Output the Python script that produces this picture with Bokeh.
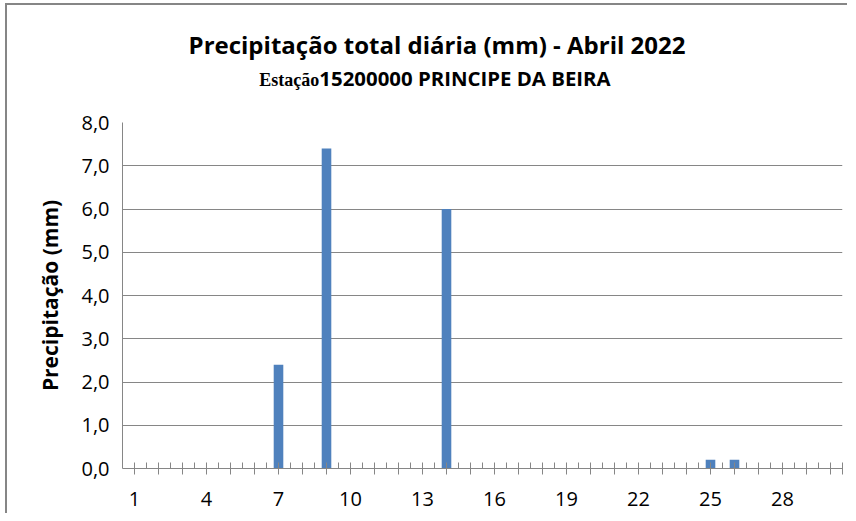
from bokeh.plotting import figure
from bokeh.models import FixedTicker, CustomJSTickFormatter, Range1d, Div
from bokeh.layouts import column
from bokeh.embed import file_html
from bokeh.resources import INLINE

# ---- data ----
days = list(range(1, 31))
precip = [0, 0, 0, 0, 0, 0, 2.4, 0, 7.4, 0,
          0, 0, 0, 6.0, 0, 0, 0, 0, 0, 0,
          0, 0, 0, 0, 0.2, 0.2, 0, 0, 0, 0]
x_label_days = [1, 4, 7, 10, 13, 16, 19, 22, 25, 28]
y_ticks = [0, 1, 2, 3, 4, 5, 6, 7, 8]

title_text = "Precipitação total diária (mm) - Abril 2022"
sub_serif = "Estação"
sub_sans = "15200000 PRINCIPE DA BEIRA"
y_label = "Precipitação (mm)"

BAR = "#4F81BD"
GRAY = "#868686"
SANS = "Open Sans"

bar_days = [d for d, v in zip(days, precip) if v > 0]
bar_vals = [v for v in precip if v > 0]

HEADER_H = 100
W = 840

header = Div(width=W, height=HEADER_H, margin=0, text=(
    '<div style="position:relative;width:%dpx;height:%dpx;margin:0;padding:0;overflow:hidden;">'
    '<div style="position:absolute;left:430px;top:28px;transform:translateX(-50%%);'
    'font-family:\'Open Sans\';font-weight:bold;font-size:24px;line-height:1;color:#000;'
    'white-space:nowrap;">%s</div>'
    '<div style="position:absolute;left:428px;top:63px;transform:translateX(-50%%);'
    'font-family:\'Open Sans\';font-weight:bold;font-size:20.4px;line-height:1;color:#000;'
    'white-space:nowrap;"><span style="font-family:\'Liberation Serif\';font-size:18px;">%s</span>%s</div>'
    '</div>') % (W, HEADER_H, title_text, sub_serif, sub_sans))

p = figure(frame_width=720, frame_height=346,
           x_range=Range1d(0.5, 30.5), y_range=Range1d(0, 8),
           output_backend="svg", toolbar_location=None,
           min_border_left=115, min_border_top=122 - 5 - HEADER_H,
           min_border_right=W - 115 - 720, min_border_bottom=45)
p.outline_line_color = None
p.background_fill_color = "white"
p.border_fill_color = "white"

p.vbar(x=bar_days, top=bar_vals, width=0.4, fill_color=BAR, line_color=None)

# grid
p.xgrid.visible = False
p.ygrid.ticker = FixedTicker(ticks=y_ticks)
p.ygrid.grid_line_color = GRAY
p.ygrid.grid_line_width = 1

# y axis
ya = p.yaxis[0]
ya.ticker = FixedTicker(ticks=y_ticks)
ya.formatter = CustomJSTickFormatter(code="return tick.toFixed(1).replace('.', ',');")
ya.major_tick_in = 0
ya.major_tick_out = 0
ya.minor_tick_in = 0
ya.minor_tick_out = 0
ya.axis_line_color = GRAY
ya.major_label_text_font = SANS
ya.major_label_text_font_size = "20px"
ya.major_label_text_color = "#000000"
ya.major_label_standoff = 13
ya.axis_label = y_label
ya.axis_label_text_font = SANS
ya.axis_label_text_font_style = "bold"
ya.axis_label_text_font_size = "21px"
ya.axis_label_text_color = "#000000"
ya.axis_label_standoff = 14

# x axis
xa = p.xaxis[0]
xa.ticker = FixedTicker(ticks=days + [30.5], minor_ticks=[d + 0.5 for d in days[:-1]])
xa.major_label_overrides = {d: (str(d) if d in x_label_days else "") for d in days}
xa.major_label_overrides[30.5] = ""
xa.major_tick_in = 6
xa.major_tick_out = 6
xa.minor_tick_in = 6
xa.minor_tick_out = 0
xa.axis_line_color = GRAY
xa.major_tick_line_color = GRAY
xa.minor_tick_line_color = GRAY
xa.major_label_text_font = SANS
xa.major_label_text_font_size = "20px"
xa.major_label_text_color = "#000000"
xa.major_label_standoff = 17

root = column(header, p, spacing=0,
              styles={"border-top": "2px solid #868686", "border-left": "2px solid #868686",
                      "border-right": "none", "border-bottom": "none",
                      "margin-left": "5px", "margin-top": "3px"})

open("out.html", "w").write(file_html(root, INLINE))
